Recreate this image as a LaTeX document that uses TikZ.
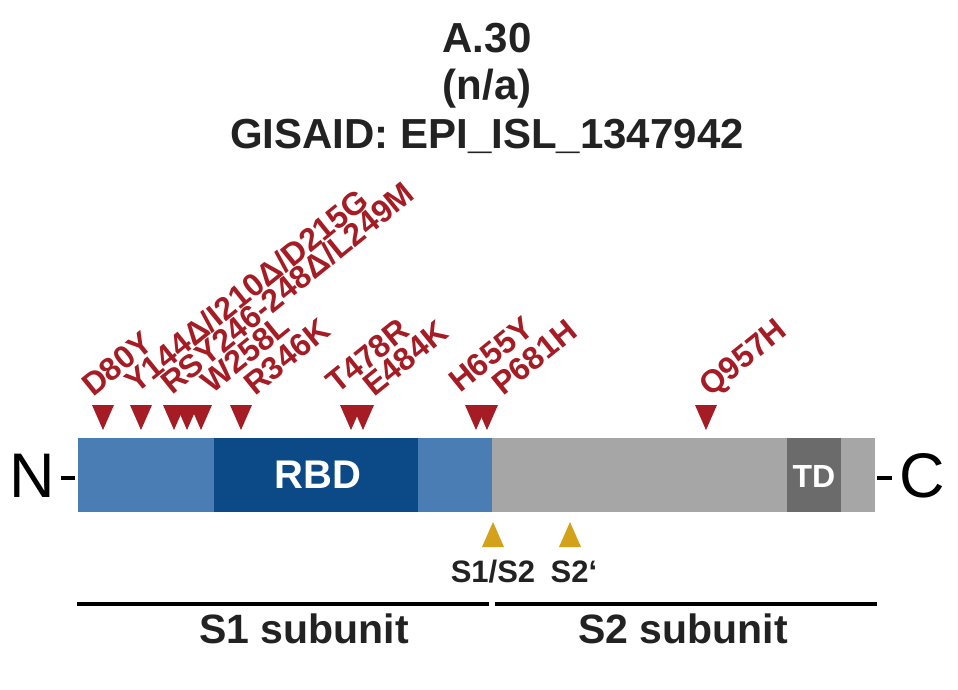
\documentclass[tikz,border=0pt]{standalone}
\usepackage{fontspec}
\setmainfont{Liberation Sans}
\definecolor{mutred}{HTML}{A51C24}
\definecolor{lblue}{HTML}{4A7DB3}
\definecolor{dblue}{HTML}{0B4A86}
\definecolor{sgray}{HTML}{A6A6A6}
\definecolor{tdgray}{HTML}{6B6B6B}
\definecolor{gold}{HTML}{D4A11A}
\definecolor{txt}{HTML}{222222}
\begin{document}
\begin{tikzpicture}[x=1pt,y=-1pt,
  title/.style={anchor=base, inner sep=0pt, text=txt, font=\fontsize{42}{42}\selectfont\bfseries},
  mut/.style={rotate=39, anchor=south west, inner sep=0pt, text depth=0pt, text=mutred, font=\fontsize{32}{32}\selectfont\bfseries},
  term/.style={inner sep=0pt, text=black, font=\fontsize{63}{63}\selectfont},
  dom/.style={inner sep=0pt, text=white, font=\bfseries},
  clv/.style={anchor=base, inner sep=0pt, text=txt, font=\fontsize{31}{31}\selectfont\bfseries},
  sub/.style={anchor=base, inner sep=0pt, text=txt, font=\fontsize{41}{41}\selectfont\bfseries},
  tick/.style={line width=4pt, black}
]
\useasboundingbox (0,0) rectangle (958,690);
% title
\node[title] (t1) at (487,53) {A.30};
\node[title] (t2) at (487,100) {(n/a)};
\node[title] (t3) at (487,148) {GISAID: EPI\_ISL\_1347942};
% bar
\fill[lblue] (78,438) rectangle (492,512);
\fill[dblue] (214,438) rectangle (418,512);
\fill[sgray] (492,438) rectangle (875,512);
\fill[tdgray] (787,438) rectangle (841,512);
\node[dom, font=\fontsize{40}{40}\selectfont\bfseries] (rbd) at (318,475) {RBD};
\node[dom, font=\fontsize{32}{32}\selectfont\bfseries] (td) at (814,476) {TD};
% termini
\node[term] (nt) at (32,476) {N};
\node[term] (ct) at (922,476) {C};
\coordinate (nbar) at (75,478);
\coordinate (cbar) at (877,478);
\draw[tick] (nt.east) ++(6,2) -- (nbar);
\draw[tick] (cbar) -- ++(15,0);
% mutation markers
\foreach \x in {103,141,174,187,201,241,351,363,476,487,706}
  \fill[mutred] ({\x-11},405) -- ({\x+11},405) -- (\x,430) -- cycle;
% mutation labels
\node[mut] (m1) at (93,398) {D80Y};
\node[mut] (m2) at (136,395) {Y144Δ/I210Δ/D215G};
\node[mut] (m3) at (172,396) {RSY246-248Δ/L249M};
\node[mut] (m4) at (212,395) {W258L};
\node[mut] (m5) at (255,397) {R346K};
\node[mut] (m6) at (337,395) {T478R};
\node[mut] (m7) at (374,398) {E484K};
\node[mut] (m8) at (460,394) {H655Y};
\node[mut] (m9) at (503,397) {P681H};
\node[mut] (m10) at (710,398) {Q957H};
% cleavage sites
\foreach \x in {493,570}
  \fill[gold] ({\x-11},547) -- ({\x+11},547) -- (\x,522) -- cycle;
\node[clv] (c1) at (493,582) {S1/S2};
\node[clv] (c2) at (574,582) {S2‘};
% subunits
\coordinate (s1a) at (77,604);
\coordinate (s1b) at (489,604);
\coordinate (s2a) at (495,604);
\coordinate (s2b) at (877,604);
\draw[line width=3.5pt] (s1a) -- (s1b);
\draw[line width=3.5pt] (s2a) -- (s2b);
\node[sub] (su1) at (304,643) {S1 subunit};
\node[sub] (su2) at (683,643) {S2 subunit};
\end{tikzpicture}
\end{document}
